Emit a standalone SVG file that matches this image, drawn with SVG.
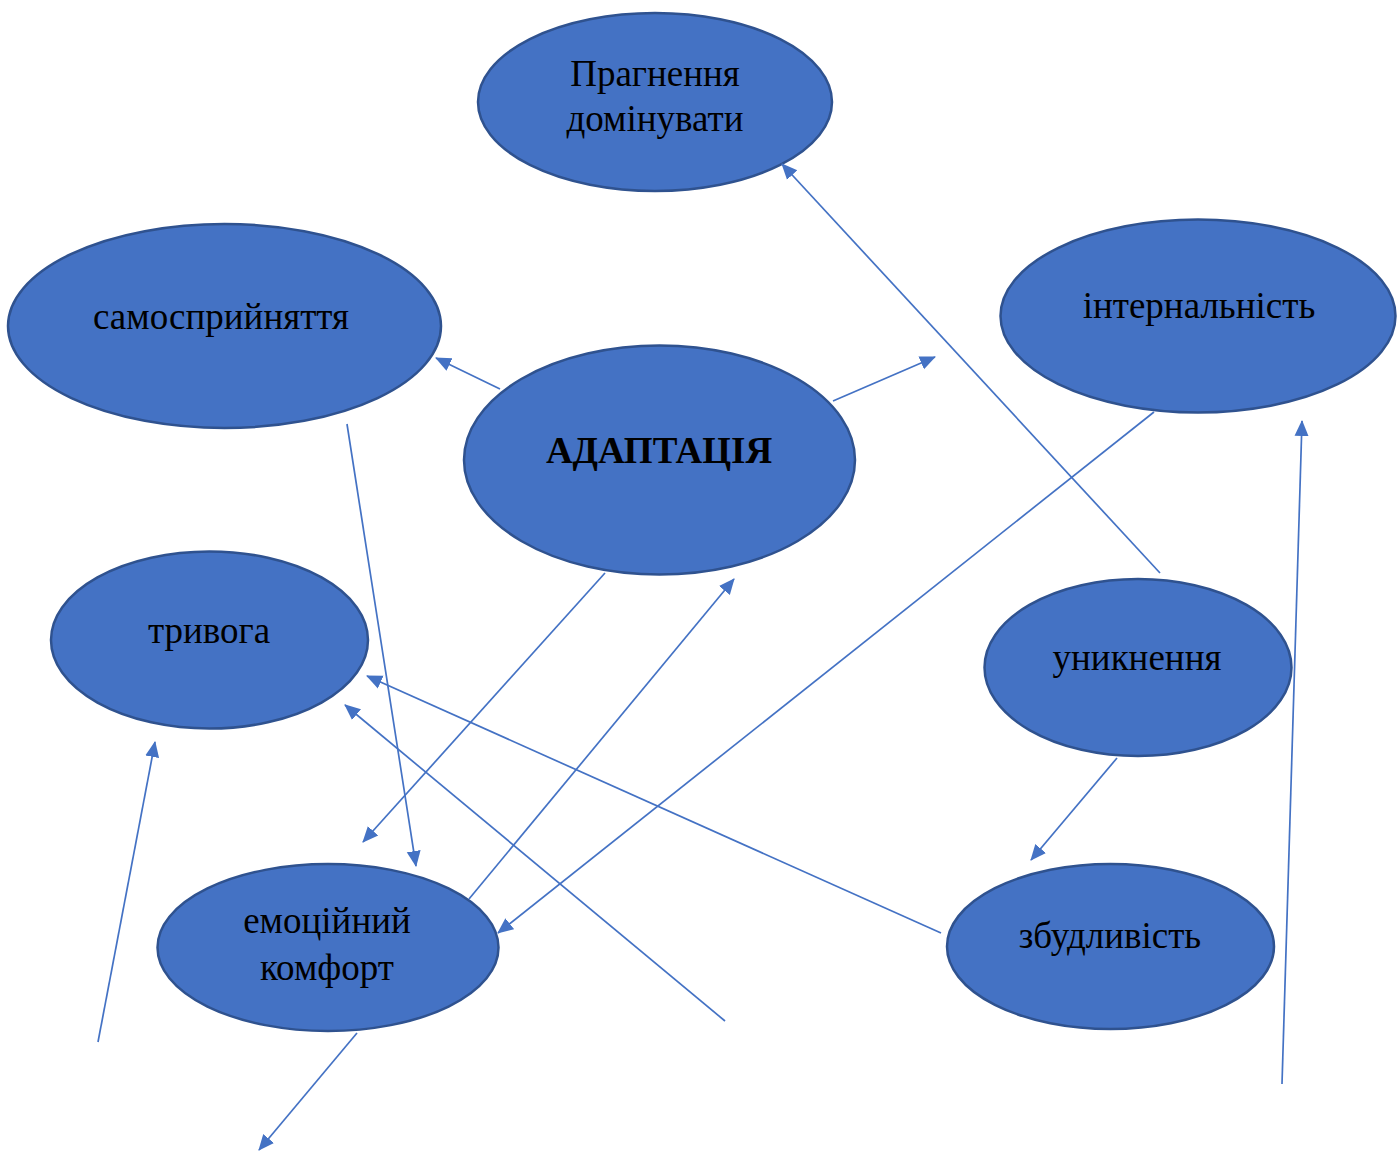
<svg xmlns="http://www.w3.org/2000/svg" width="1398" height="1151" viewBox="0 0 1398 1151">
<style>
.n{fill:#4472C4;stroke:#2F528F;stroke-width:2.5}
.t{font-family:"Liberation Serif","Times New Roman",serif;font-size:37px;fill:#000;text-anchor:middle}
.b{font-weight:bold}
.c{stroke:#4472C4;stroke-width:1.7;fill:none;marker-end:url(#ah)}
</style>
<defs>
<marker id="ah" markerUnits="userSpaceOnUse" markerWidth="16" markerHeight="16" viewBox="0 0 16 16" refX="15" refY="8" orient="auto">
<path d="M0,1 L16,8 L0,15 Z" fill="#4472C4"/>
</marker>
</defs>
<rect width="1398" height="1151" fill="#fff"/>
<g id="n-pragnennya"><ellipse class="n" cx="655" cy="102" rx="177" ry="89"/><text class="t" x="655" y="86">Прагнення</text><text class="t" x="655" y="131">домінувати</text></g>
<g id="n-samosp"><ellipse class="n" cx="224.5" cy="326" rx="216.5" ry="102"/><text class="t" x="221" y="329">самосприйняття</text></g>
<g id="n-intern"><ellipse class="n" cx="1198" cy="316" rx="197.5" ry="96.5"/><text class="t" x="1199" y="318">інтернальність</text></g>
<g id="n-adapt"><ellipse class="n" cx="659.5" cy="460" rx="195.5" ry="114.5"/><text class="t b" x="659" y="463">АДАПТАЦІЯ</text></g>
<g id="n-tryvoga"><ellipse class="n" cx="209.5" cy="640" rx="158.5" ry="88.5"/><text class="t" x="209" y="643">тривога</text></g>
<g id="n-unyk"><ellipse class="n" cx="1138" cy="667.5" rx="153.5" ry="88.5"/><text class="t" x="1137" y="670">уникнення</text></g>
<g id="n-emo"><ellipse class="n" cx="328" cy="947.5" rx="170.5" ry="83.5"/><text class="t" x="327" y="933">емоційний</text><text class="t" x="327" y="980">комфорт</text></g>
<g id="n-zbud"><ellipse class="n" cx="1110.5" cy="946.5" rx="163.5" ry="82.5"/><text class="t" x="1110" y="948">збудливість</text></g>
<g id="connectors">
<line class="c" x1="500" y1="389" x2="436" y2="358"/>
<line class="c" x1="833" y1="401" x2="935" y2="357"/>
<line class="c" x1="1160" y1="573" x2="782" y2="164"/>
<line class="c" x1="1154" y1="412" x2="498" y2="933"/>
<line class="c" x1="1282" y1="1084" x2="1302" y2="421"/>
<line class="c" x1="347" y1="424" x2="416" y2="866"/>
<line class="c" x1="605" y1="573" x2="363" y2="842"/>
<line class="c" x1="469" y1="899" x2="734" y2="579"/>
<line class="c" x1="98" y1="1042" x2="155" y2="742"/>
<line class="c" x1="941" y1="933" x2="367" y2="676"/>
<line class="c" x1="725" y1="1021" x2="345" y2="705"/>
<line class="c" x1="1117" y1="758" x2="1031" y2="860"/>
<line class="c" x1="357" y1="1033" x2="259" y2="1150"/>
</g>
</svg>
